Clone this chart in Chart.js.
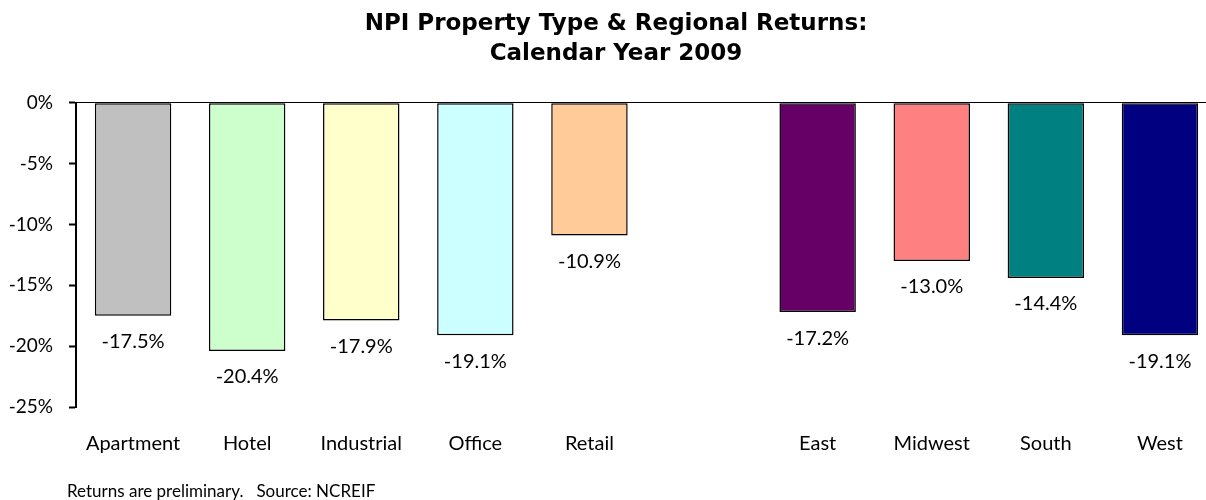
<!DOCTYPE html>
<html>
<head>
<meta charset="utf-8">
<title>NPI Property Type & Regional Returns: Calendar Year 2009</title>
<script src="https://cdn.jsdelivr.net/npm/chart.js@4.4.1/dist/chart.umd.min.js"></script>
<style>
    html, body { margin: 0; padding: 0; background: #fff; overflow: hidden; }
    #wrap { width: 1217px; height: 500px; }
</style>
</head>
<body>
<div id="wrap"><canvas id="npiChart"></canvas></div>
<script>
const categories = ['Apartment', 'Hotel', 'Industrial', 'Office', 'Retail', '', 'East', 'Midwest', 'South', 'West'];
const returns2009 = [-17.5, -20.4, -17.9, -19.1, -10.9, null, -17.2, -13.0, -14.4, -19.1];
const barColors = ['#C0C0C0', '#CCFFCC', '#FFFFCC', '#CCFFFF', '#FFCC99', '#FFFFFF', '#660066', '#FF8080', '#008080', '#000080'];
const yTicks = [0, -5, -10, -15, -20, -25];
const footnote = 'Returns are preliminary.   Source: NCREIF';

const FONT = 'Lato, "Open Sans", sans-serif';

// value labels under each bar
const valueLabels = {
    id: 'valueLabels',
    afterDatasetsDraw(chart) {
        const ctx = chart.ctx;
        const meta = chart.getDatasetMeta(0);
        ctx.save();
        ctx.font = '20px ' + FONT;
        ctx.fillStyle = '#000';
        ctx.textAlign = 'center';
        ctx.textBaseline = 'top';
        meta.data.forEach(function(bar, i) {
            const v = returns2009[i];
            if (v === null) return;
            ctx.fillText(v.toFixed(1) + '%', bar.x, bar.y + 16);
        });
        ctx.restore();
    }
};

// source line at the bottom left, and nudge the title a bit right
const sourceNote = {
    id: 'sourceNote',
    afterLayout(chart) {
        if (chart.titleBlock) chart.titleBlock.left += 15;
    },
    afterDraw(chart) {
        const ctx = chart.ctx;
        ctx.save();
        ctx.font = '17px ' + FONT;
        ctx.fillStyle = '#000';
        ctx.textAlign = 'left';
        ctx.textBaseline = 'alphabetic';
        ctx.fillText(footnote, chart.chartArea.left - 9, chart.height - 3);
        ctx.restore();
    }
};

const ctx = document.getElementById('npiChart').getContext('2d');
const npiChart = new Chart(ctx, {
    type: 'bar',
    data: {
        labels: categories,
        datasets: [{
            label: 'Total Return',
            data: returns2009,
            backgroundColor: barColors,
            borderColor: '#000',
            borderWidth: 1.5,
            borderSkipped: false,
            categoryPercentage: 1,
            barPercentage: 0.67
        }]
    },
    options: {
        responsive: true,
        maintainAspectRatio: false,
        animation: false,
        layout: {
            padding: { left: 0, right: 0, top: 0, bottom: 19 }
        },
        plugins: {
            legend: { display: false },
            tooltip: { enabled: false },
            title: {
                display: true,
                text: ['NPI Property Type & Regional Returns:', 'Calendar Year 2009'],
                color: '#000',
                font: { family: '"DejaVu Sans", Verdana, sans-serif', size: 23, weight: 'bold', lineHeight: 1.3 },
                padding: { top: 9, bottom: 34 }
            }
        },
        scales: {
            x: {
                offset: true,
                grid: { display: false, drawTicks: false },
                border: { display: false },
                ticks: {
                    color: '#000',
                    padding: 25,
                    maxRotation: 0,
                    autoSkip: false,
                    font: { family: FONT, size: 20 }
                }
            },
            y: {
                min: -25,
                max: 0,
                afterFit: function(scale) { scale.width = 76; },
                afterBuildTicks: function(scale) {
                    scale.ticks = yTicks.map(function(v) { return { value: v }; });
                },
                border: { display: true, color: '#000', width: 2 },
                grid: {
                    color: function(c) { return c.tick && c.tick.value === 0 ? '#000' : 'rgba(0,0,0,0)'; },
                    lineWidth: 1,
                    tickColor: '#000',
                    tickLength: 7,
                    tickWidth: 2
                },
                ticks: {
                    color: '#000',
                    padding: 16,
                    font: { family: FONT, size: 19 },
                    callback: function(v) { return v + '%'; }
                }
            }
        }
    },
    plugins: [valueLabels, sourceNote]
});
</script>
</body>
</html>
